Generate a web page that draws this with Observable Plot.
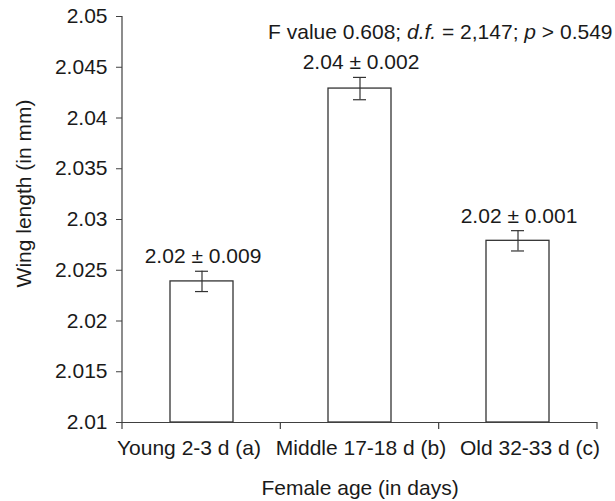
<!DOCTYPE html>
<html>
<head>
<meta charset="utf-8">
<script src="https://cdn.jsdelivr.net/npm/d3@7"></script>
<script src="https://cdn.jsdelivr.net/npm/@observablehq/plot@0.6"></script>
<style>
  html, body { margin: 0; padding: 0; background: #fff; }
  #chart svg { font-family: "Liberation Sans", Arial, sans-serif; }
</style>
</head>
<body>
<div id="chart"></div>
<script>
const categories = ["Young 2-3 d (a)", "Middle 17-18 d (b)", "Old 32-33 d (c)"];
const means = [2.0239, 2.0429, 2.0279];
const errors = [0.001, 0.0011, 0.001];
const barLabels = ["2.02 ± 0.009", "2.04 ± 0.002", "2.02 ± 0.001"];
const yTicks = [2.01, 2.015, 2.02, 2.025, 2.03, 2.035, 2.04, 2.045, 2.05];
const yDomain = [2.01, 2.05];
const xTitle = "Female age (in days)";
const yTitle = "Wing length (in mm)";
const statText = "F value 0.608; d.f. = 2,147; p > 0.549";
const xLabelShift = [-13, 1, 12];

const data = categories.map((c, i) => ({
  cat: c, mean: means[i], lo: means[i] - errors[i], hi: means[i] + errors[i], label: barLabels[i]
}));

const axisColor = "#404040";
const inkColor = "#1a1a1a";

function axisLines(index, scales, values, dims) {
  const g = d3.create("svg:g").attr("stroke", axisColor).attr("stroke-width", 1.2);
  const x0 = dims.marginLeft, x1 = dims.width - dims.marginRight;
  const y0 = dims.marginTop, y1 = dims.height - dims.marginBottom;
  g.append("line").attr("x1", x0).attr("x2", x0).attr("y1", y0).attr("y2", y1);
  const n = categories.length;
  const step = (x1 - x0) / n;
  for (let i = 0; i <= n; i++) {
    const xx = x0 + i * step;
    g.append("line").attr("x1", xx).attr("x2", xx).attr("y1", y1).attr("y2", y1 + 7);
  }
  return g.node();
}

const chart = Plot.plot({
  width: 615,
  height: 501,
  marginLeft: 122,
  marginRight: 18,
  marginTop: 16,
  marginBottom: 79,
  style: { fontSize: "21px", fontFamily: "'Liberation Sans', Arial, sans-serif", color: inkColor, background: "#fff" },
  x: { domain: categories, paddingInner: 0.6, paddingOuter: 0.3, label: null },
  y: { domain: yDomain, label: null },
  marks: [
    Plot.barY(data, { x: "cat", y1: () => yDomain[0], y2: "mean", fill: "#fff", stroke: "#333", strokeWidth: 1.3 }),
    Plot.ruleX(data, { x: "cat", y1: "lo", y2: "hi", stroke: "#333", strokeWidth: 1.2 }),
    Plot.tickY(data, { x: "cat", y: "lo", stroke: "#333", strokeWidth: 1.2, insetLeft: 25, insetRight: 25 }),
    Plot.tickY(data, { x: "cat", y: "hi", stroke: "#333", strokeWidth: 1.2, insetLeft: 25, insetRight: 25 }),
    Plot.text(data, { x: "cat", y: "hi", text: "label", dy: -8, dx: 1, lineAnchor: "bottom", fill: inkColor }),
    Plot.ruleY([yDomain[0]], { stroke: axisColor, strokeWidth: 1.2 }),
    axisLines,
    Plot.axisY({ ticks: yTicks, tickSize: 6, tickPadding: 9, tickFormat: d => String(+d.toFixed(3)), stroke: axisColor, fill: inkColor, label: null }),
    ...categories.map((c, i) =>
      Plot.axisX({ ticks: [c], tickSize: 0, tickPadding: 18, dx: xLabelShift[i], fill: inkColor, label: null })
    ),
    Plot.text([xTitle], { frameAnchor: "bottom", dy: 66, lineAnchor: "middle", fill: inkColor }),
    Plot.text([yTitle], { frameAnchor: "left", rotate: -90, textAnchor: "middle", dx: -98, dy: -26, lineAnchor: "middle", fill: inkColor }),
    Plot.text([statText], { frameAnchor: "top-right", textAnchor: "end", dx: 15, dy: 8, lineAnchor: "top", fill: inkColor })
  ]
});

document.getElementById("chart").appendChild(chart);

// italicize statistical symbols in the annotation
const svg = chart.tagName.toLowerCase() === "svg" ? chart : chart.querySelector("svg");
svg.querySelectorAll("text").forEach(t => {
  if (t.textContent === statText) {
    const parts = [["F value 0.608; ", false], ["d.f.", true], [" = 2,147; ", false], ["p", true], [" > 0.549", false]];
    t.textContent = "";
    t.setAttribute("xml:space", "preserve");
    t.style.whiteSpace = "pre";
    parts.forEach(([s, it]) => {
      const ts = document.createElementNS("http://www.w3.org/2000/svg", "tspan");
      ts.textContent = s;
      if (it) ts.setAttribute("font-style", "italic");
      t.appendChild(ts);
    });
  }
});
</script>
</body>
</html>
